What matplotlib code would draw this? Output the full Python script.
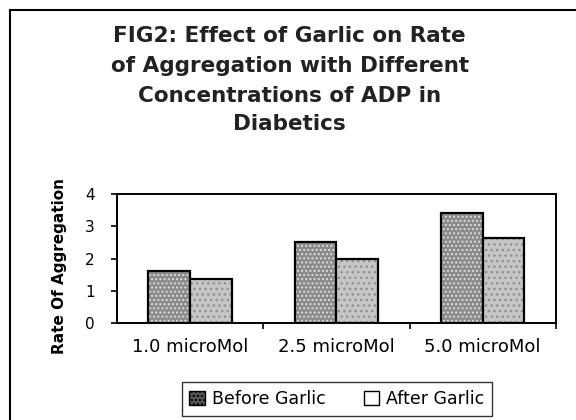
import matplotlib
matplotlib.use("Agg")
import matplotlib.pyplot as plt
import numpy as np
from matplotlib.patches import Patch
from matplotlib.lines import Line2D

kategoriler = ["1.0 microMol", "2.5 microMol", "5.0 microMol"]
once = [1.6, 2.5, 3.4]      # Before Garlic
sonra = [1.35, 2.0, 2.65]   # After Garlic
seriler = ["Before Garlic", "After Garlic"]
y_ticks = [0, 1, 2, 3, 4]

baslik_satirlari = ["FIG2: Effect of Garlic on Rate",
                    "of Aggregation with Different",
                    "Concentrations of ADP in",
                    "Diabetics"]
satir_y = [36, 66, 96, 124]  # piksel, yukaridan

fig = plt.figure(figsize=(5.76, 4.2), dpi=100)
ax = fig.add_axes([0.203, 0.231, 0.762, 0.307])

x = np.arange(len(kategoriler))
w = 0.285

# dolgu + desen, sonra siyah kenar
ax.bar(x - w / 2, once, w, color="#8a8a8a", hatch="....", edgecolor="#dcdcdc", linewidth=0)
ax.bar(x - w / 2, once, w, fill=False, edgecolor="black", linewidth=1.6)
ax.bar(x + w / 2, sonra, w, color="#c6c6c6", hatch="...", edgecolor="#8f8f8f", linewidth=0)
ax.bar(x + w / 2, sonra, w, fill=False, edgecolor="black", linewidth=1.6)

ax.set_xlim(-0.5, 2.5)
ax.set_ylim(0, 4)
ax.set_yticks(y_ticks)
ax.set_xticks(x)
ax.set_xticklabels(kategoriler, fontsize=13, family="DejaVu Sans")
ax.set_xticks([0.5, 1.5, 2.5], minor=True)
ax.tick_params(axis="x", which="major", length=0, pad=11)
ax.tick_params(axis="x", which="minor", length=4, direction="out", width=1.2)
ax.tick_params(axis="y", length=4, width=1.2, pad=12, labelsize=11)
for s in ax.spines.values():
    s.set_linewidth(1.4)

fig.text(0.104, 0.367, "Rate Of Aggregation", rotation=90, ha="center", va="center",
         fontsize=11, fontweight="bold", family="DejaVu Sans")

for satir, yy in zip(baslik_satirlari, satir_y):
    fig.text(0.503, 1 - yy / 420, satir, ha="center", va="center", fontsize=15.5,
             fontweight="bold", family="DejaVu Sans", color="#222222")

tutamaclar = [Patch(facecolor="#555555", edgecolor="black", hatch="...."),
              Patch(facecolor="white", edgecolor="black")]
leg = fig.legend(tutamaclar, seriler, loc="center", bbox_to_anchor=(337 / 576, 1 - 399 / 420),
                 ncol=2, fancybox=False, edgecolor="black",
                 handlelength=0.9, handleheight=0.8, handletextpad=0.4, columnspacing=2.2,
                 borderpad=0.45, prop={"family": "DejaVu Sans", "size": 12.5})
leg.get_frame().set_linewidth(1.0)

# dis cerceve
fig.add_artist(Line2D([0.017, 0.017], [0.0, 0.976], color="black", lw=1.5))
fig.add_artist(Line2D([0.017, 1.0], [0.976, 0.976], color="black", lw=1.5))

fig.savefig("out.png", dpi=100)
